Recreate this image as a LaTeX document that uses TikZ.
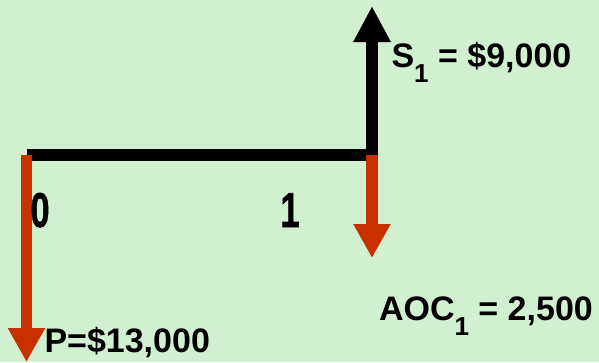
\documentclass[tikz,border=0pt]{standalone}
\usepackage{fontspec}
\setmainfont{Liberation Sans}
\newfontfamily\numfont[FakeBold=1.2]{Liberation Sans Bold}
\usetikzlibrary{arrows.meta}
\definecolor{bgg}{RGB}{208,240,208}
\definecolor{cfred}{RGB}{200,48,0}
\newcommand{\lblfont}{\fontsize{34}{34}\selectfont\bfseries}
\newcommand{\subone}{\raisebox{-15pt}{\fontsize{26}{26}\selectfont 1}}
\newcommand{\bignum}[1]{\scalebox{0.7}[1]{\fontsize{49}{49}\numfont #1}}
\tikzset{
  lbl/.style={inner sep=0pt, outer sep=0pt, text=black, font=\lblfont},
  tick/.style={inner sep=0pt, outer sep=0pt, text=black},
  axis/.style={line width=12pt, black, line cap=butt},
  upflow/.style={line width=12pt, black, line cap=butt, -{Triangle[length=36pt, width=35pt]}},
  downflow/.style={line width=11.5pt, cfred, line cap=butt, -{Triangle[length=34pt, width=35pt]}}
}
\begin{document}
\begin{tikzpicture}[x=1pt, y=-1pt]
  \fill[bgg] (0,0) rectangle (599,362);
  \useasboundingbox (0,0) rectangle (599,362);
  % coordinates
  \coordinate (t0) at (27,155);
  \coordinate (t1) at (378,155);
  \coordinate (s1base) at (372,161);
  \coordinate (s1tip) at (372,6);
  \coordinate (aocbase) at (372,155);
  \coordinate (aoctip) at (372,258);
  \coordinate (pbase) at (26.5,155);
  \coordinate (ptip) at (26.5,362);
  % time line
  \draw[axis] (t0) -- (t1);
  % cash flows
  \draw[upflow] (s1base) -- (s1tip);
  \draw[downflow] (aocbase) -- (aoctip);
  \draw[downflow] (pbase) -- (ptip);
  % labels
  \node[tick, anchor=base west] (n0) at (30.5,227) {\bignum{0}};
  \node[tick, anchor=base] (n1) at (290,227) {\bignum{1}};
  \node[lbl, anchor=base west] (ls) at (391.5,67) {S\subone{} = \$9,000};
  \node[lbl, anchor=base west] (la) at (379,320) {AOC\subone{} = 2,500};
  \node[lbl, anchor=base west] (lp) at (44.5,352) {P=\$13,000};
\end{tikzpicture}
\end{document}
